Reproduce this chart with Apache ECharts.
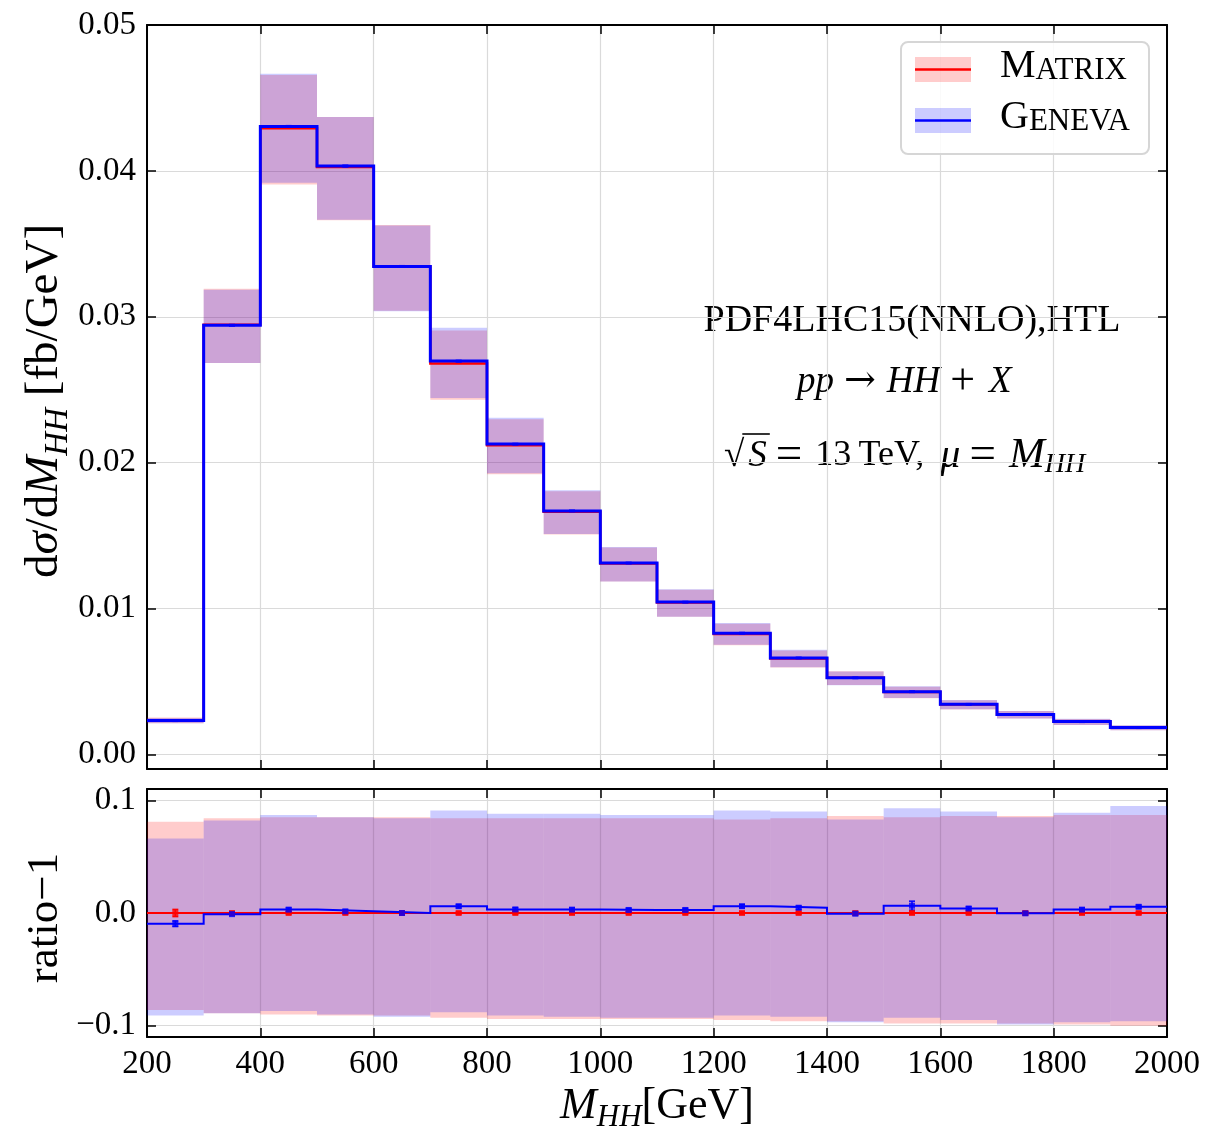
<!DOCTYPE html>
<html><head><meta charset="utf-8">
<script src="https://cdn.jsdelivr.net/npm/echarts@6/dist/echarts.min.js"></script>
<style>html,body{margin:0;padding:0;background:#fff}#c{width:1209px;height:1131px}</style>
</head><body><div id="c"></div>
<script>
// ---------------- data ----------------
const binEdges   = [200,300,400,500,600,700,800,900,1000,1100,1200,1300,1400,1500,1600,1700,1800,1900,2000];
const binCenters = [250,350,450,550,650,750,850,950,1050,1150,1250,1350,1450,1550,1650,1750,1850,1950];
const xTickLabels = ['200','400','600','800','1000','1200','1400','1600','1800','2000'];

// d sigma / d M_HH [fb/GeV]
const matrixVal = [0.00234,0.02945,0.04292,0.04027,0.03345,0.02680,0.02120,0.01664,0.01308,0.01041,0.00826,0.00658,0.00525,0.00427,0.00342,0.00274,0.00224,0.00183];
const genevaVal = [0.00232,0.02942,0.04305,0.04033,0.03345,0.02696,0.02127,0.01669,0.01312,0.01044,0.00831,0.00661,0.00525,0.00430,0.00343,0.00274,0.00225,0.00184];
const matrixTopUp = [0.00253,0.03192,0.04657,0.04369,0.03629,0.02905,0.02298,0.01804,0.01418,0.01128,0.00895,0.00713,0.00570,0.00463,0.00371,0.00298,0.00243,0.00199];
const matrixTopDn = [0.00214,0.02683,0.03906,0.03661,0.03041,0.02431,0.01921,0.01508,0.01185,0.00943,0.00748,0.00595,0.00475,0.00385,0.00308,0.00247,0.00202,0.00165];
const genevaTopUp = [0.00249,0.03186,0.04665,0.04369,0.03626,0.02924,0.02307,0.01810,0.01422,0.01132,0.00901,0.00717,0.00569,0.00467,0.00373,0.00297,0.00244,0.00200];
const genevaTopDn = [0.00213,0.02683,0.03919,0.03665,0.03037,0.02444,0.01927,0.01511,0.01186,0.00944,0.00751,0.00597,0.00474,0.00387,0.00310,0.00247,0.00202,0.00165];
const genevaTopErr = [0.00002,0.00003,0.00004,0.00004,0.00003,0.00003,0.00002,0.00002,0.00002,0.00002,0.00002,0.00002,0.00001,0.00001,0.00001,0.00001,0.00001,0.00001];

// ratio - 1 (relative to Matrix)
const matrixRatio    = [0,0,0,0,0,0,0,0,0,0,0,0,0,0,0,0,0,0];
const matrixRatioErr = [0.0032,0.001,0.001,0.001,0.001,0.001,0.001,0.001,0.001,0.001,0.001,0.001,0.001,0.001,0.001,0.001,0.001,0.001];
const genevaRatio    = [-0.0095,-0.001,0.003,0.0015,0.0,0.006,0.0032,0.003,0.0027,0.0027,0.006,0.0047,-0.0006,0.0065,0.004,-0.0003,0.003,0.0055];
const genevaRatioErr = [0.0025,0.0012,0.0015,0.0012,0.0012,0.0015,0.0015,0.0015,0.0015,0.0015,0.0015,0.0015,0.0015,0.004,0.0015,0.0015,0.0015,0.0015];
const matrixRatioUp = [0.081,0.084,0.085,0.085,0.085,0.084,0.084,0.084,0.084,0.084,0.083,0.084,0.086,0.085,0.086,0.086,0.087,0.087];
const matrixRatioDn = [-0.086,-0.089,-0.090,-0.091,-0.091,-0.093,-0.094,-0.094,-0.094,-0.094,-0.095,-0.096,-0.096,-0.098,-0.098,-0.098,-0.099,-0.100];
const genevaRatioUp = [0.066,0.082,0.087,0.085,0.084,0.091,0.088,0.088,0.087,0.087,0.091,0.090,0.083,0.093,0.090,0.085,0.089,0.095];
const genevaRatioDn = [-0.091,-0.089,-0.087,-0.090,-0.092,-0.088,-0.091,-0.092,-0.093,-0.093,-0.091,-0.092,-0.097,-0.093,-0.095,-0.099,-0.097,-0.096];

// ---------------- helpers ----------------
const FONT = "'Liberation Serif','DejaVu Serif',serif";
const RED = '#ff0000', BLUE = '#0000ff';
const stepData = vals => { const d = vals.map((v,i)=>[binEdges[i], v]); d.push([binEdges[binEdges.length-1], vals[vals.length-1]]); return d; };
const bandData = (up,dn) => up.map((u,i)=>[binEdges[i], binEdges[i+1], dn[i], u]);
const errData  = (v,e) => v.map((y,i)=>[binCenters[i], y-e[i], y+e[i]]);
const ptData   = v => v.map((y,i)=>[binCenters[i], y]);

function bandSeries(data, fill, xi, yi){
  return {type:'custom', xAxisIndex:xi, yAxisIndex:yi, data, encode:{x:[0,1], y:[2,3]}, silent:true, z:1,
    renderItem:(p,api)=>{
      const a = api.coord([api.value(0), api.value(3)]);
      const b = api.coord([api.value(1), api.value(2)]);
      return {type:'rect', shape:{x:a[0], y:a[1], width:b[0]-a[0], height:b[1]-a[1]}, style:{fill}};
    }};
}
function errSeries(data, color, xi, yi, cap, lw){
  return {type:'custom', xAxisIndex:xi, yAxisIndex:yi, data, encode:{x:0, y:[1,2]}, silent:true, z:6,
    renderItem:(p,api)=>{
      const lo = api.coord([api.value(0), api.value(1)]);
      const hi = api.coord([api.value(0), api.value(2)]);
      const st = {stroke:color, lineWidth:lw};
      return {type:'group', children:[
        {type:'line', shape:{x1:lo[0], y1:lo[1], x2:hi[0], y2:hi[1]}, style:st},
        {type:'line', shape:{x1:lo[0]-cap, y1:lo[1], x2:lo[0]+cap, y2:lo[1]}, style:st},
        {type:'line', shape:{x1:hi[0]-cap, y1:hi[1], x2:hi[0]+cap, y2:hi[1]}, style:st}
      ]};
    }};
}
function stepSeries(vals, color, w, xi, yi, z){
  return {type:'line', xAxisIndex:xi, yAxisIndex:yi, data:stepData(vals), step:'end', showSymbol:false,
    lineStyle:{color, width:w, join:'miter'}, itemStyle:{color}, z, silent:true, animation:false};
}
function ptSeries(vals, color, size, xi, yi, z){
  return {type:'scatter', xAxisIndex:xi, yAxisIndex:yi, data:ptData(vals), symbol:'rect', symbolSize:size,
    itemStyle:{color}, z, silent:true};
}

const axisLineS = {show:true, onZero:false, lineStyle:{color:'#000', width:2}};
const tickS = {show:true, inside:true, length:9, lineStyle:{color:'#000', width:1.5}};
const splitS = {show:true, lineStyle:{color:'#dadada', width:1.2}};
const labelS = {color:'#000', fontFamily:FONT, fontSize:33};

const G0 = {left:147, top:25, width:1020, height:744};
const G1 = {left:147, top:789, width:1020, height:248};

const xBase = gi => ({gridIndex:gi, type:'value', min:binEdges[0], max:binEdges[binEdges.length-1], interval:200});
const xAxes = [
  Object.assign(xBase(0), {position:'bottom', axisLine:axisLineS, axisTick:tickS, splitLine:splitS, axisLabel:{show:false}}),
  Object.assign(xBase(1), {position:'bottom', axisLine:axisLineS, axisTick:tickS, splitLine:splitS,
     axisLabel:Object.assign({}, labelS, {margin:11, formatter:v=>{const s=String(Math.round(v)); return xTickLabels.includes(s)?s:'';}})}),
  Object.assign(xBase(0), {position:'top', axisLine:axisLineS, axisTick:tickS, splitLine:{show:false}, axisLabel:{show:false}}),
  Object.assign(xBase(1), {position:'top', axisLine:axisLineS, axisTick:tickS, splitLine:{show:false}, axisLabel:{show:false}})
];
const fmtTop = v => { const k = Math.round(v*100); if (Math.abs(v*100-k)>1e-6 || k<0) return ''; return (k/100).toFixed(2); };
const fmtBot = v => { const k = Math.round(v*10); if (Math.abs(v*10-k)>1e-6) return ''; const s=Math.abs(k/10).toFixed(1); return k<0 ? '\u2212'+s : s; };
const yTop = gi => ({gridIndex:gi, type:'value', min:-0.001, max:0.05, splitNumber:5});
const yBot = gi => ({gridIndex:gi, type:'value', min:-0.11, max:0.11, splitNumber:2});
const yAxes = [
  Object.assign(yTop(0), {position:'left', axisLine:axisLineS, axisTick:tickS, splitLine:splitS,
     axisLabel:Object.assign({}, labelS, {margin:11, formatter:fmtTop, showMinLabel:false})}),
  Object.assign(yBot(1), {position:'left', axisLine:axisLineS, axisTick:tickS, splitLine:splitS,
     axisLabel:Object.assign({}, labelS, {margin:11, formatter:fmtBot, showMinLabel:false, showMaxLabel:false})}),
  Object.assign(yTop(0), {position:'right', axisLine:axisLineS, axisTick:tickS, splitLine:{show:false}, axisLabel:{show:false}}),
  Object.assign(yBot(1), {position:'right', axisLine:axisLineS, axisTick:tickS, splitLine:{show:false}, axisLabel:{show:false}})
];

const series = [
  bandSeries(bandData(matrixTopUp, matrixTopDn), 'rgba(255,0,0,0.2)', 0, 0),
  bandSeries(bandData(genevaTopUp, genevaTopDn), 'rgba(0,0,255,0.2)', 0, 0),
  stepSeries(matrixVal, RED, 2.5, 0, 0, 3),
  stepSeries(genevaVal, BLUE, 3, 0, 0, 4),
  errSeries(errData(genevaVal, genevaTopErr), BLUE, 0, 0, 3, 1.5),
  ptSeries(genevaVal, BLUE, [6,3], 0, 0, 7),

  bandSeries(bandData(matrixRatioUp, matrixRatioDn), 'rgba(255,0,0,0.2)', 1, 1),
  bandSeries(bandData(genevaRatioUp, genevaRatioDn), 'rgba(0,0,255,0.2)', 1, 1),
  stepSeries(matrixRatio, RED, 2, 1, 1, 3),
  stepSeries(genevaRatio, BLUE, 2, 1, 1, 4),
  errSeries(errData(matrixRatio, matrixRatioErr), RED, 1, 1, 3, 1.5),
  ptSeries(matrixRatio, RED, 6, 1, 1, 6),
  errSeries(errData(genevaRatio, genevaRatioErr), BLUE, 1, 1, 3, 1.5),
  ptSeries(genevaRatio, BLUE, 6, 1, 1, 7)
];

// rich text styles
const tok = (fs, extra) => Object.assign({fontFamily:FONT, fontSize:fs, color:'#000', lineHeight:Math.round(fs*1.25), verticalAlign:'middle'}, extra||{});
const rich = (fs) => ({
  rm: tok(fs),
  it: tok(fs, {fontStyle:'italic'}),
  sub: tok(Math.round(fs*0.7), {fontStyle:'italic', lineHeight:Math.round(fs*0.55), verticalAlign:'bottom'})
});
const scRich = {
  big:{fontFamily:FONT, fontSize:40, color:'#000', lineHeight:40, verticalAlign:'bottom'},
  sc:{fontFamily:FONT, fontSize:31, color:'#000', lineHeight:31, verticalAlign:'bottom'}
};
// line 2 / line 3 of annotation (math spacing via padding)
const FS = 37;
const line2Rich = {
  it: tok(FS, {fontStyle:'italic', lineHeight:46}),
  arr: tok(FS, {fontFamily:"'DejaVu Serif'", fontSize:38, padding:[0,11,0,10], lineHeight:46}),
  op: tok(44, {padding:[0,14,0,10], lineHeight:46})
};
const padRad = 4;
const line3Rich = {
  rad: tok(FS, {lineHeight:46}),
  S: tok(FS, {fontStyle:'italic', padding:[0,0,0,padRad], lineHeight:46}),
  eq: tok(47, {padding:[0,13,0,9], lineHeight:46}),
  rm: tok(36, {lineHeight:46}),
  mu: tok(40, {fontStyle:'italic', padding:[0,0,0,16], lineHeight:46}),
  M: tok(43, {fontStyle:'italic', lineHeight:46}),
  sub: tok(28, {fontStyle:'italic', lineHeight:22, verticalAlign:'bottom'})
};
// measure widths for the radical overline
const mctx = document.createElement('canvas').getContext('2d');
mctx.font = FS + "px 'Liberation Serif'";
const wRad = mctx.measureText('\u221A').width;
mctx.font = "italic " + FS + "px 'Liberation Serif'";
const wS = mctx.measureText('S').width;
const L3X = 724;

const graphic = [
  // y-axis titles
  {type:'text', x:45, y:401, rotation:Math.PI/2, silent:true,
   style:{text:'{rm|d}{it|σ}{rm|/d}{it|M}{sub|HH}{rm| [fb/GeV]}', rich:rich(47), align:'center', verticalAlign:'middle'}},
  {type:'text', x:45, y:918, rotation:Math.PI/2, silent:true,
   style:{text:'{rm|ratio\u22121}', rich:rich(45), align:'center', verticalAlign:'middle'}},
  // x-axis title
  {type:'text', x:657, y:1106, silent:true,
   style:{text:'{it|M}{sub|HH}{rm|[GeV]}', rich:rich(44), align:'center', verticalAlign:'middle'}},
  // annotation
  {type:'text', x:912, y:321, silent:true,
   style:{text:'{rm|PDF4LHC15(NNLO),HTL}', rich:rich(38), align:'center', verticalAlign:'middle'}},
  {type:'text', x:797, y:382, silent:true,
   style:{text:'{it|pp}{arr|\u2192}{it|HH}{op|+}{it|X}', rich:line2Rich, align:'left', verticalAlign:'middle'}},
  {type:'text', x:L3X, y:456, silent:true,
   style:{text:'{rad|\u221A}{S|S}{eq|=}{rm|13\u2009TeV,}{mu|μ}{eq|=}{M|M}{sub|HH}', rich:line3Rich, align:'left', verticalAlign:'middle'}},
  {type:'line', silent:true, shape:{x1:L3X+wRad-2, y1:434, x2:L3X+wRad+padRad+wS+3, y2:434}, style:{stroke:'#000', lineWidth:1.6}},
  // legend
  {type:'rect', silent:true, z:50, shape:{x:901, y:42, width:248, height:112, r:7},
   style:{fill:'rgba(255,255,255,0.85)', stroke:'#d6d6d6', lineWidth:2}},
  {type:'rect', silent:true, z:51, shape:{x:915, y:57, width:56, height:25}, style:{fill:'rgba(255,0,0,0.2)'}},
  {type:'line', silent:true, z:52, shape:{x1:915, y1:69.5, x2:971, y2:69.5}, style:{stroke:RED, lineWidth:2.5}},
  {type:'rect', silent:true, z:51, shape:{x:915, y:108, width:56, height:25}, style:{fill:'rgba(0,0,255,0.2)'}},
  {type:'line', silent:true, z:52, shape:{x1:915, y1:120.5, x2:971, y2:120.5}, style:{stroke:BLUE, lineWidth:2.5}},
  {type:'text', silent:true, z:52, x:1000, y:86, style:{text:'{big|M}{sc|ATRIX}', rich:scRich, align:'left', verticalAlign:'bottom'}},
  {type:'text', silent:true, z:52, x:1000, y:137, style:{text:'{big|G}{sc|ENEVA}', rich:scRich, align:'left', verticalAlign:'bottom'}}
];

const chart = echarts.init(document.getElementById('c'), null, {renderer:'canvas'});
chart.setOption({
  animation:false,
  backgroundColor:'#fff',
  grid:[Object.assign({containLabel:false}, G0), Object.assign({containLabel:false}, G1)],
  xAxis:xAxes, yAxis:yAxes, series, graphic
});
</script></body></html>
